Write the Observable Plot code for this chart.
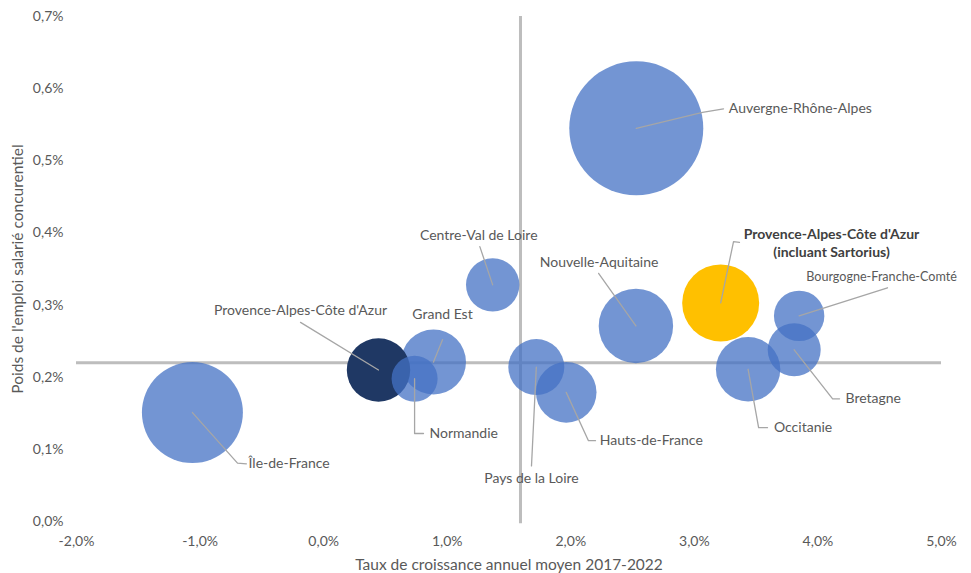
<!DOCTYPE html>
<html>
<head>
<meta charset="utf-8">
<script src="https://cdn.jsdelivr.net/npm/d3@7"></script>
<script src="https://cdn.jsdelivr.net/npm/@observablehq/plot@0.6"></script>
<style>
  html, body { margin: 0; padding: 0; background: #fff; }
  #chart svg { display: block; }
</style>
</head>
<body>
<div id="chart"></div>
<script>
// ---- Data ----
const regions = [
  "Île-de-France", "Provence-Alpes-Côte d'Azur", "Normandie", "Grand Est",
  "Centre-Val de Loire", "Pays de la Loire", "Hauts-de-France", "Nouvelle-Aquitaine",
  "Auvergne-Rhône-Alpes", "Provence-Alpes-Côte d'Azur\n(incluant Sartorius)", "Occitanie",
  "Bourgogne-Franche-Comté", "Bretagne"
];
const groups = ["autre", "paca", "autre", "autre", "autre", "autre", "autre", "autre",
  "autre", "sartorius", "autre", "autre", "autre"];
// Taux de croissance annuel moyen 2017-2022 (%)
const growth = [-1.062, 0.444, 0.736, 0.889, 1.368, 1.721, 1.963, 2.527, 2.530, 3.213, 3.435, 3.848, 3.808];
// Poids de l'emploi salarié concurrentiel (%)
const weight = [0.151, 0.210, 0.198, 0.221, 0.328, 0.214, 0.179, 0.271, 0.545, 0.303, 0.211, 0.285, 0.238];
// Bubble size (emploi, unités relatives)
const size = [2550, 1005, 529, 1056, 713, 784, 918, 1384, 4489, 1482, 1037, 635, 702];

// Label anchors (data units) and leader-line break points
const labelX = [-0.608, -0.187, 0.857, 0.962, 1.255, 1.682, 2.235, 2.229, 3.279, 4.110, 3.644, 3.905, 4.223];
const labelY = [0.080, 0.292, 0.122, 0.287, 0.396, 0.060, 0.112, 0.359, 0.572, 0.387, 0.130, 0.339, 0.170];
const labelAnchor = ["start", "middle", "start", "middle", "middle", "middle", "start", "middle",
  "start", "middle", "start", "start", "start"];
const elbowX = [-0.697, -0.187, 0.736, 0.962, 1.264, 1.682, 2.143, 2.225, 3.066, 3.317, 3.520, 4.563, 4.119];
const elbowY = [0.081, 0.276, 0.122, 0.252, 0.381, 0.077, 0.112, 0.344, 0.567, 0.388, 0.130, 0.324, 0.170];
const stubX = [-0.625, null, 0.808, null, null, null, 2.200, null, 3.236, 3.365, 3.592, null, 4.175];

// Reference lines
const refX = 1.593;
const refY = 0.220;

const xTicks = [-2, -1, 0, 1, 2, 3, 4, 5];
const yTicks = [0, 0.1, 0.2, 0.3, 0.4, 0.5, 0.6, 0.7];
const xTitle = "Taux de croissance annuel moyen 2017-2022";
const yTitle = "Poids de l'emploi salarié concurentiel";

// ---- Build tables ----
const rows = regions.map((name, i) => ({
  name, group: groups[i], x: growth[i], y: weight[i], size: size[i],
  lx: labelX[i], ly: labelY[i], anchor: labelAnchor[i],
  ex: elbowX[i], ey: elbowY[i], sx: stubX[i]
}));
const order = {autre: 0, paca: 1, sartorius: 2};
const bubbles = rows.slice().sort((a, b) => order[a.group] - order[b.group]);
const leaders = rows.flatMap(r => {
  const pts = [{name: r.name, x: r.x, y: r.y}, {name: r.name, x: r.ex, y: r.ey}];
  if (r.sx != null) pts.push({name: r.name, x: r.sx, y: r.ly});
  return pts;
});
const fmt = d => d.toFixed(1).replace(".", ",") + "%";
const font = "Lato, 'Open Sans', sans-serif";
const plain = rows.filter(r => r.group !== "sartorius");
const longName = "Bourgogne-Franche-Comté";

const chart = Plot.plot({
  width: 971,
  height: 573,
  marginLeft: 76,
  marginRight: 30,
  marginTop: 16,
  marginBottom: 52,
  style: {fontFamily: font, fontSize: "14px", color: "#595959", background: "#fff"},
  x: {domain: [-2, 5]},
  y: {domain: [0, 0.7]},
  r: {domain: [0, 4489], range: [0, 67]},
  color: {domain: ["autre", "paca", "sartorius"], range: ["#4472C4", "#1F3864", "#FFC000"]},
  marks: [
    Plot.ruleY([refY], {x1: -2, x2: 5, stroke: "#BDBDBD", strokeWidth: 3}),
    Plot.ruleX([refX], {y1: -0.003, y2: 0.7, stroke: "#BDBDBD", strokeWidth: 3}),
    Plot.dot(bubbles, {
      x: "x", y: "y", r: "size", fill: "group",
      fillOpacity: d => d.group === "autre" ? 0.75 : 1,
      stroke: null
    }),
    Plot.line(leaders, {x: "x", y: "y", z: "name", stroke: "#A6A6A6", strokeWidth: 1.3, curve: "linear"}),
    Plot.text(plain.filter(r => r.anchor === "start" && r.name !== longName), {
      x: "lx", y: "ly", text: "name", textAnchor: "start", lineAnchor: "middle",
      fill: "#595959", fontSize: 14
    }),
    Plot.text(plain.filter(r => r.name === longName), {
      x: "lx", y: "ly", text: "name", textAnchor: "start", lineAnchor: "middle",
      fill: "#595959", fontSize: 12.6
    }),
    Plot.text(plain.filter(r => r.anchor === "middle"), {
      x: "lx", y: "ly", text: "name", textAnchor: "middle", lineAnchor: "middle",
      fill: "#595959", fontSize: 14
    }),
    Plot.text(rows.filter(r => r.group === "sartorius"), {
      x: "lx", y: "ly", text: "name", textAnchor: "middle", lineAnchor: "middle",
      fill: "#404040", fontSize: 14, fontWeight: "bold", lineHeight: 1.3
    }),
    Plot.axisX(xTicks, {tickSize: 0, tickPadding: 15, tickFormat: fmt, fill: "#595959", fontSize: 14, label: null}),
    Plot.axisY(yTicks, {tickSize: 0, tickPadding: 13, tickFormat: fmt, fill: "#595959", fontSize: 14, label: null}),
    Plot.text([xTitle], {frameAnchor: "bottom", dy: 44, lineAnchor: "middle", textAnchor: "middle", fill: "#595959", fontSize: 15.5}),
    Plot.text([yTitle], {frameAnchor: "left", dx: -58, rotate: -90, lineAnchor: "middle", textAnchor: "middle", fill: "#595959", fontSize: 15.5})
  ]
});
document.getElementById("chart").appendChild(chart);
</script>
</body>
</html>
